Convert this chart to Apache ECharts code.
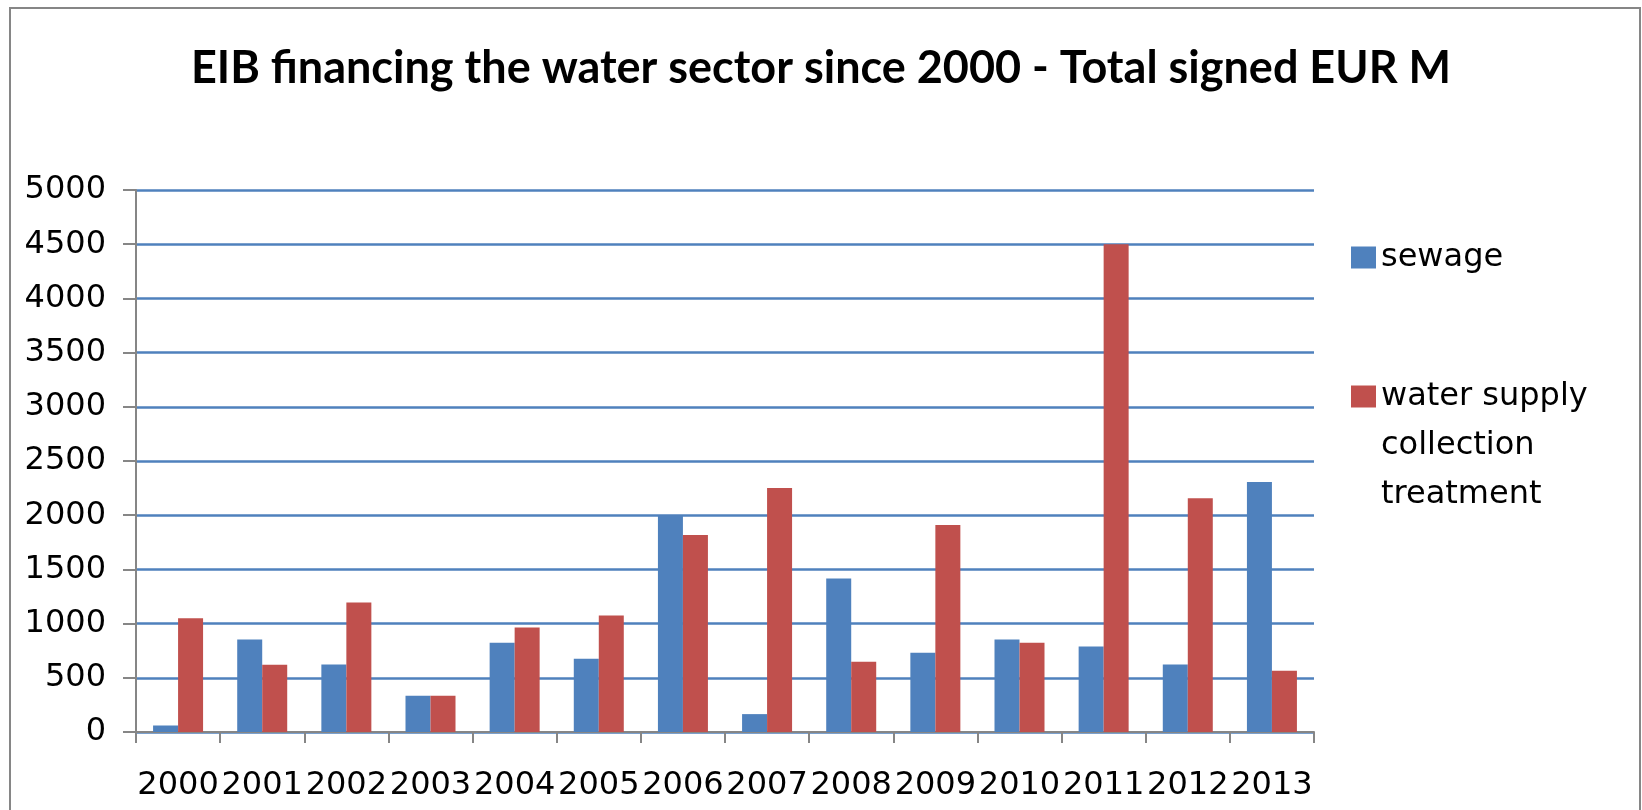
<!DOCTYPE html>
<html>
<head>
<meta charset="utf-8">
<script src="https://cdn.jsdelivr.net/npm/echarts@6/dist/echarts.min.js"></script>
<style>html,body{margin:0;padding:0;background:#fff;}#c{width:1642px;height:810px;}</style>
</head>
<body>
<div id="c"></div>
<script>
const categories = ['2000','2001','2002','2003','2004','2005','2006','2007','2008','2009','2010','2011','2012','2013'];
const sewage = [60, 854, 622, 334, 824, 675, 2000, 165, 1416, 731, 854, 788, 622, 2306];
const waterSupply = [1050, 620, 1195, 334, 963, 1075, 1817, 2250, 649, 1909, 824, 4500, 2157, 565];
const yTicks = [0, 500, 1000, 1500, 2000, 2500, 3000, 3500, 4000, 4500, 5000];
const titleText = 'EIB financing the water sector since 2000 - Total signed EUR M';
const seriesNames = ['sewage', 'water supply\ncollection\ntreatment'];

const chart = echarts.init(document.getElementById('c'), null, {renderer: 'canvas'});
const font = 'DejaVu Sans';
chart.setOption({
  backgroundColor: '#ffffff',
  animation: false,
  title: {
    text: titleText,
    left: 'center',
    top: 40,
    padding: 0,
    textStyle: {fontFamily: 'Lato', fontWeight: 'bold', fontSize: 45, color: '#000', lineHeight: 56}
  },
  graphic: [{
    type: 'rect',
    shape: {x: 10, y: 8, width: 1630, height: 820},
    style: {fill: 'none', stroke: '#868686', lineWidth: 2},
    silent: true
  }],
  legend: {
    orient: 'vertical',
    left: 1346,
    top: 228,
    padding: 5,
    itemWidth: 25,
    itemHeight: 22,
    itemGap: -8,
    icon: 'rect',
    textStyle: {fontFamily: font, fontSize: 32, color: '#000', lineHeight: 49},
    formatter: function (name) { return name === seriesNames[1] ? '\n\n' + name : name; },
    data: seriesNames
  },
  grid: {left: 136, right: 328, top: 190, bottom: 78, containLabel: false},
  xAxis: {
    type: 'category',
    data: categories,
    axisLine: {lineStyle: {color: '#868686', width: 2}},
    axisTick: {show: true, length: 11, lineStyle: {color: '#868686', width: 2}},
    axisLabel: {fontFamily: font, fontSize: 32, color: '#000', margin: 38, interval: 0}
  },
  yAxis: {
    type: 'value',
    min: yTicks[0],
    max: yTicks[yTicks.length - 1],
    interval: 500,
    axisLine: {show: true, lineStyle: {color: '#868686', width: 2}},
    axisTick: {show: true, length: 13, lineStyle: {color: '#868686', width: 2}},
    axisLabel: {fontFamily: font, fontSize: 32, color: '#000', margin: 30, formatter: function (v) { return String(v); }},
    splitLine: {show: true, lineStyle: {color: '#4F81BD', width: 2.5}}
  },
  series: [
    {name: seriesNames[0], type: 'bar', data: sewage, barWidth: 25, barGap: '0%', itemStyle: {color: '#4F81BD'}},
    {name: seriesNames[1], type: 'bar', data: waterSupply, barWidth: 25, barGap: '0%', itemStyle: {color: '#C0504D'}}
  ]
});
</script>
</body>
</html>
